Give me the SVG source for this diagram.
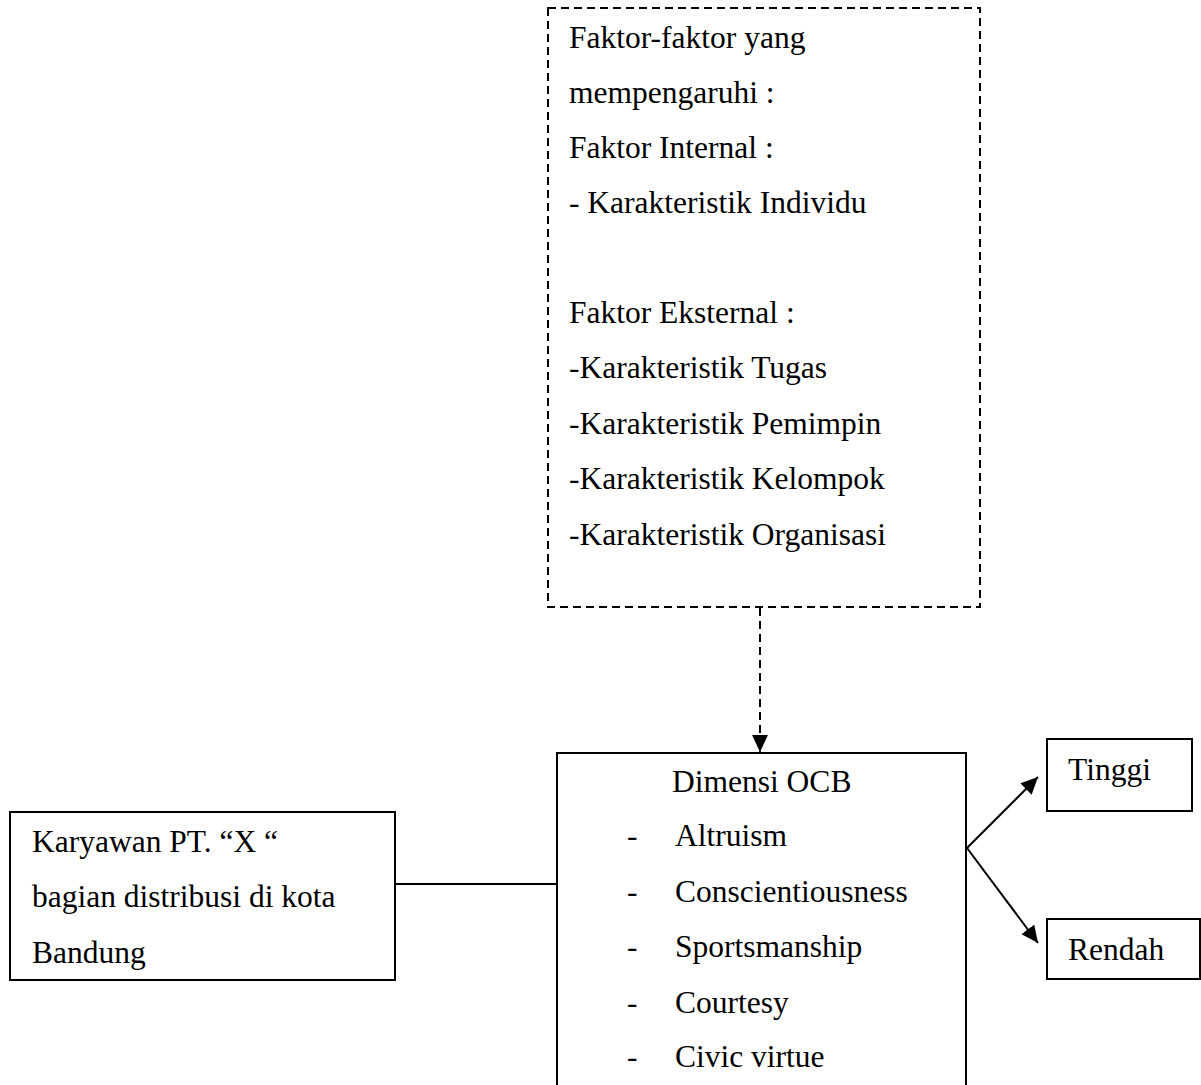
<svg xmlns="http://www.w3.org/2000/svg" width="1201" height="1085" viewBox="0 0 1201 1085">
<style>
.t{font-family:"Liberation Serif","Times New Roman",serif;font-size:31.5px;fill:#000}
.box{fill:#fff;stroke:#000;stroke-width:2}
.dash{fill:none;stroke:#000;stroke-width:2;stroke-dasharray:8 5}
.ln{fill:none;stroke:#000;stroke-width:2}
</style>
<defs>
<marker id="ah" markerUnits="userSpaceOnUse" markerWidth="18" markerHeight="16" refX="17" refY="8" orient="auto">
<path d="M0,0 L17,8 L0,16 Z" fill="#000"/>
</marker>
</defs>
<rect width="1201" height="1085" fill="#fff"/>
<g id="connectors">
<line class="dash" x1="760" y1="608" x2="760" y2="752" marker-end="url(#ah)"/>
<line class="ln" x1="395" y1="884" x2="557" y2="884"/>
<line class="ln" x1="967" y1="848" x2="1038" y2="777" marker-end="url(#ah)"/>
<line class="ln" x1="967" y1="848" x2="1038" y2="943" marker-end="url(#ah)"/>
</g>
<g id="faktor">
<rect class="dash" x="548" y="8" width="432" height="599"/>
<text class="t" x="569" y="48">Faktor-faktor yang</text>
<text class="t" x="569" y="103">mempengaruhi :</text>
<text class="t" x="569" y="158">Faktor Internal :</text>
<text class="t" x="569" y="213">- Karakteristik Individu</text>
<text class="t" x="569" y="323">Faktor Eksternal :</text>
<text class="t" x="569" y="378">-Karakteristik Tugas</text>
<text class="t" x="569" y="434">-Karakteristik Pemimpin</text>
<text class="t" x="569" y="489">-Karakteristik Kelompok</text>
<text class="t" x="569" y="545">-Karakteristik Organisasi</text>
</g>
<g id="dimensi">
<rect class="box" x="557" y="753" width="409" height="345"/>
<text class="t" x="672" y="792">Dimensi OCB</text>
<text class="t" x="627" y="846">-</text><text class="t" x="675" y="846">Altruism</text>
<text class="t" x="627" y="902">-</text><text class="t" x="675" y="902">Conscientiousness</text>
<text class="t" x="627" y="957">-</text><text class="t" x="675" y="957">Sportsmanship</text>
<text class="t" x="627" y="1013">-</text><text class="t" x="675" y="1013">Courtesy</text>
<text class="t" x="627" y="1067">-</text><text class="t" x="675" y="1067">Civic virtue</text>
</g>
<g id="karyawan">
<rect class="box" x="10" y="812" width="385" height="168"/>
<text class="t" x="32" y="852">Karyawan PT. “X “</text>
<text class="t" x="32" y="907">bagian distribusi di kota</text>
<text class="t" x="32" y="963">Bandung</text>
</g>
<g id="tinggi">
<rect class="box" x="1047" y="739" width="145" height="72"/>
<text class="t" x="1068" y="780">Tinggi</text>
</g>
<g id="rendah">
<rect class="box" x="1047" y="919" width="153" height="60"/>
<text class="t" x="1068" y="960">Rendah</text>
</g>
</svg>
